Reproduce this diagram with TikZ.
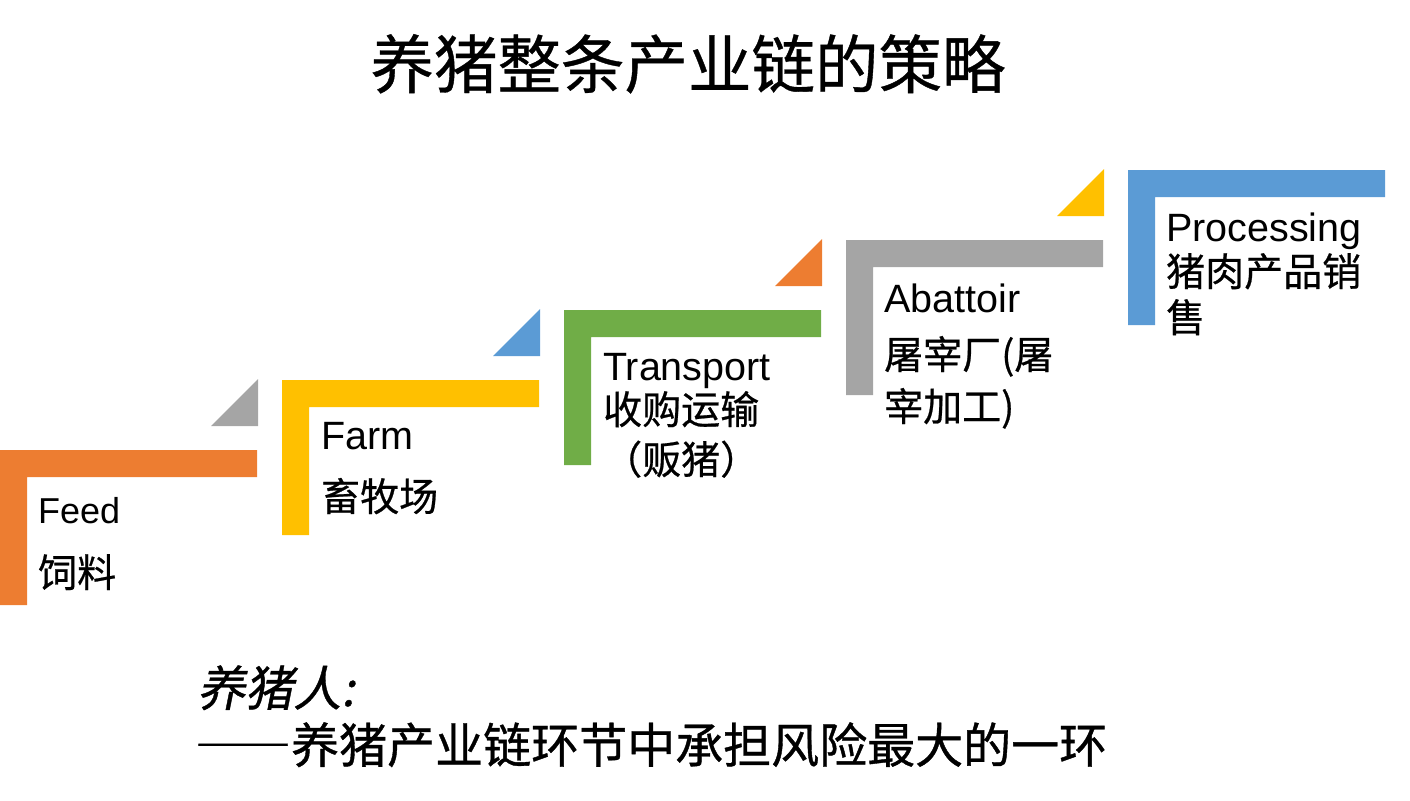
\documentclass[tikz,border=0pt]{standalone}
\usepackage{fontspec}
\setmainfont{Liberation Sans}
\newfontfamily\cjk[FakeBold=0.6]{Noto Sans CJK SC}
\newfontfamily\cjkslant[FakeSlant=0.2,FakeBold=0.8]{Noto Sans CJK SC}
\newfontfamily\cjkfw[FakeBold=0.8,RawFeature=+fwid]{Noto Sans CJK SC}
\usetikzlibrary{positioning}
\definecolor{feedorange}{HTML}{ED7D31}
\definecolor{farmyellow}{HTML}{FFC000}
\definecolor{transgreen}{HTML}{70AD47}
\definecolor{abatgray}{HTML}{A5A5A5}
\definecolor{procblue}{HTML}{5B9BD5}

\begin{document}
\begin{tikzpicture}[
    x=1pt, y=-1pt,
    en/.style={anchor=base west, inner sep=0pt, font=\fontsize{39.5}{42}\selectfont},
    cn/.style={anchor=base west, inner sep=0pt, font=\fontsize{39}{42}\selectfont\cjk},
    note/.style={anchor=base west, inner sep=0pt, font=\fontsize{48}{50}\selectfont\cjk}
]
\useasboundingbox (0,0) rectangle (1410,800);

% Titolo
\node[anchor=base, inner sep=0pt, font=\fontsize{63.5}{66}\selectfont\cjk] (title) at (688,88) {养猪整条产业链的策略};

% Gradini
\fill[feedorange] (0,450) -- (257,450) -- (257,477) -- (27,477) -- (27,605) -- (0,605) -- cycle;
\fill[farmyellow] (282,380) -- (539,380) -- (539,407) -- (309,407) -- (309,535) -- (282,535) -- cycle;
\fill[transgreen] (564,310) -- (821,310) -- (821,337) -- (591,337) -- (591,465) -- (564,465) -- cycle;
\fill[abatgray] (846,240) -- (1103,240) -- (1103,267) -- (873,267) -- (873,395) -- (846,395) -- cycle;
\fill[procblue] (1128,170) -- (1385,170) -- (1385,197) -- (1155,197) -- (1155,325) -- (1128,325) -- cycle;

% Triangoli
\fill[abatgray] (211,426) -- (258,426) -- (258,379) -- cycle;
\fill[procblue] (493,356) -- (540,356) -- (540,309) -- cycle;
\fill[feedorange] (775,286) -- (822,286) -- (822,239) -- cycle;
\fill[farmyellow] (1057,216) -- (1104,216) -- (1104,169) -- cycle;

% Testi
\node[en, font=\fontsize{36}{40}\selectfont] (feed) at (38,523) {Feed};
\node[cn] (feedcn) at (38,587) {饲料};
\node[en] (farm) at (321,449) {Farm};
\node[cn] (farmcn) at (321,511) {畜牧场};
\node[en] (trans) at (603,380) {Transport};
\node[cn] (transcn) at (603,424) {收购运输};
\node[cn] (transcn2) at (603,474) {（贩猪）};
\node[en] (abat) at (884,312) {Abattoir};
\node[cn] (abatcn) at (884,369) {屠宰厂(屠};
\node[cn] (abatcn2) at (884,421) {宰加工)};
\node[en] (proc) at (1166,241) {Processing};
\node[cn] (proccn) at (1166,286) {猪肉产品销};
\node[cn] (proccn2) at (1166,332) {售};

% Nota in basso
\node[note, font=\fontsize{48}{50}\selectfont\cjkslant] (farmer) at (197,706) {养猪人:};
\node[note, font=\fontsize{48}{50}\selectfont\cjkfw] (risk) at (195,763) {——养猪产业链环节中承担风险最大的一环};

\end{tikzpicture}
\end{document}
